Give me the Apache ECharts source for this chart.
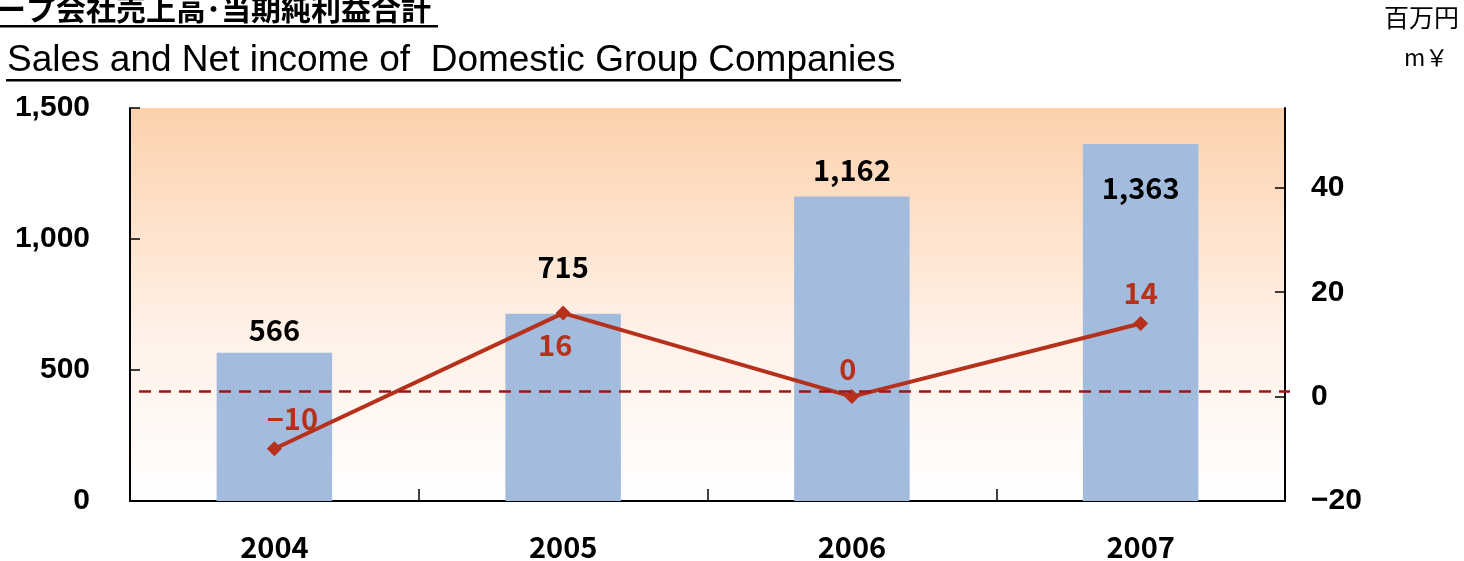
<!DOCTYPE html>
<html>
<head>
<meta charset="utf-8">
<script src="https://cdn.jsdelivr.net/npm/echarts@6/dist/echarts.min.js"></script>
<style>
    html, body { margin: 0; padding: 0; background: #fff; }
    #main { width: 1464px; height: 561px; }
</style>
</head>
<body>
<div id="main"></div>
<script>
const years = ['2004', '2005', '2006', '2007'];
const sales = [566, 715, 1162, 1363];          // 百万円, left axis
const netIncome = [-10, 16, 0, 14];            // 百万円, right axis
const salesTicks = [0, 500, 1000, 1500];
const incomeTicks = [-20, 0, 20, 40];
const referenceLevel = 1;                      // dashed line, right axis

document.addEventListener('DOMContentLoaded', init);

function init() {
    drawChart();
}

function drawChart() {
    let myChart = echarts.init(document.getElementById('main'));

    const red = '#b5311c';
    const jpFont = '"Noto Sans CJK JP", sans-serif';
    const numFont = '"Liberation Sans", Arial, sans-serif';

    // where each income label sits relative to its point
    const incomeLabelPos = [
        { position: 'top', offset: [18, 0] },
        { position: 'bottom', offset: [-8, 2] },
        { position: 'top', offset: [-4, 2] },
        { position: 'top', offset: [0, -1] }
    ];
    // bar label placement (the 715 one is lifted clear of the line point)
    const salesLabelPos = [
        { position: 'top', distance: 8 },
        { position: 'top', distance: 32 },
        { position: 'top', distance: 12 },
        { position: 'insideTop', distance: 30 }
    ];

    let option = {
        animation: false,
        grid: {
            left: 130,
            right: 179,
            top: 108,
            bottom: 59,
            show: true,
            borderWidth: 0,
            backgroundColor: new echarts.graphic.LinearGradient(0, 0, 0, 1, [
                { offset: 0, color: '#fdd1ac' },
                { offset: 0.55, color: '#fff0e6' },
                { offset: 1, color: '#ffffff' }
            ])
        },
        graphic: [
            {
                type: 'text', left: -64, top: -6,
                style: { text: 'グループ会社売上高･当期純利益合計', font: 'bold 30px ' + jpFont, fill: '#000' }
            },
            { type: 'rect', shape: { x: 0, y: 25, width: 438, height: 2.5 }, style: { fill: '#000' } },
            {
                type: 'text', left: 7, top: 42,
                style: { text: 'Sales and Net income of  Domestic Group Companies', font: '37px ' + numFont, fill: '#000' }
            },
            { type: 'rect', shape: { x: 6, y: 79, width: 895, height: 2.5 }, style: { fill: '#000' } },
            {
                type: 'text', left: 1384, top: 5,
                style: { text: '百万円', font: '25px ' + jpFont, fill: '#000' }
            },
            {
                type: 'text', left: 1404, top: 46,
                style: { text: 'm￥', font: '23px ' + jpFont, fill: '#000' }
            }
        ],
        xAxis: {
            type: 'category',
            data: years,
            axisLine: { lineStyle: { color: '#000', width: 2 } },
            axisTick: { show: true, inside: true, length: 12, lineStyle: { color: '#000', width: 1.5 } },
            axisLabel: { margin: 31, color: '#000', fontSize: 29, fontWeight: 'bold', fontFamily: jpFont }
        },
        yAxis: [
            {
                type: 'value',
                min: salesTicks[0],
                max: salesTicks[salesTicks.length - 1],
                interval: 500,
                splitLine: { show: false },
                axisLine: { show: true, lineStyle: { color: '#000', width: 2 } },
                axisTick: { show: true, inside: true, length: 10, lineStyle: { color: '#000', width: 1.5 } },
                axisLabel: {
                    margin: 40, color: '#000', fontSize: 30, fontWeight: 'bold', fontFamily: numFont,
                    padding: [6, 0, 0, 0],
                    formatter: function (value) {
                        return value.toLocaleString('en-US');
                    }
                }
            },
            {
                type: 'value',
                min: incomeTicks[0],
                max: 55.3,
                interval: 20,
                splitLine: { show: false },
                axisLine: { show: true, lineStyle: { color: '#000', width: 2 } },
                axisTick: { show: true, inside: true, length: 10, lineStyle: { color: '#000', width: 1.5 } },
                axisLabel: {
                    margin: 26, color: '#000', fontSize: 30, fontWeight: 'bold', fontFamily: numFont,
                    padding: [4, 0, 0, 0],
                    showMaxLabel: false,
                    formatter: function (value) {
                        if (incomeTicks.indexOf(value) < 0) return '';
                        return value < 0 ? '−' + Math.abs(value) : String(value);
                    }
                }
            }
        ],
        series: [
            {
                type: 'bar',
                data: sales.map((v, i) => ({ value: v, label: salesLabelPos[i] })),
                barWidth: '40%',
                itemStyle: { color: '#a3bbdc' },
                label: {
                    show: true,
                    color: '#000',
                    fontSize: 29,
                    fontFamily: jpFont,
                    fontWeight: 'bold',
                    formatter: function (p) {
                        return p.value.toLocaleString('en-US');
                    }
                }
            },
            {
                type: 'line',
                yAxisIndex: 1,
                data: netIncome.map((v, i) => ({ value: v, label: incomeLabelPos[i] })),
                symbol: 'diamond',
                symbolSize: 15,
                lineStyle: { color: red, width: 4 },
                itemStyle: { color: red },
                label: {
                    show: true,
                    color: red,
                    fontSize: 29,
                    fontFamily: jpFont,
                    fontWeight: 'bold',
                    distance: 8,
                    formatter: function (p) {
                        return p.value < 0 ? '−' + Math.abs(p.value) : String(p.value);
                    }
                },
                markLine: {
                    silent: true,
                    symbol: 'none',
                    label: { show: false },
                    lineStyle: { color: '#a01414', type: [12, 8], width: 2.5 },
                    data: [[
                        { yAxis: referenceLevel, x: 139 },
                        { yAxis: referenceLevel, x: 1290 }
                    ]]
                }
            }
        ]
    };

    myChart.setOption(option);
}
</script>
</body>
</html>
